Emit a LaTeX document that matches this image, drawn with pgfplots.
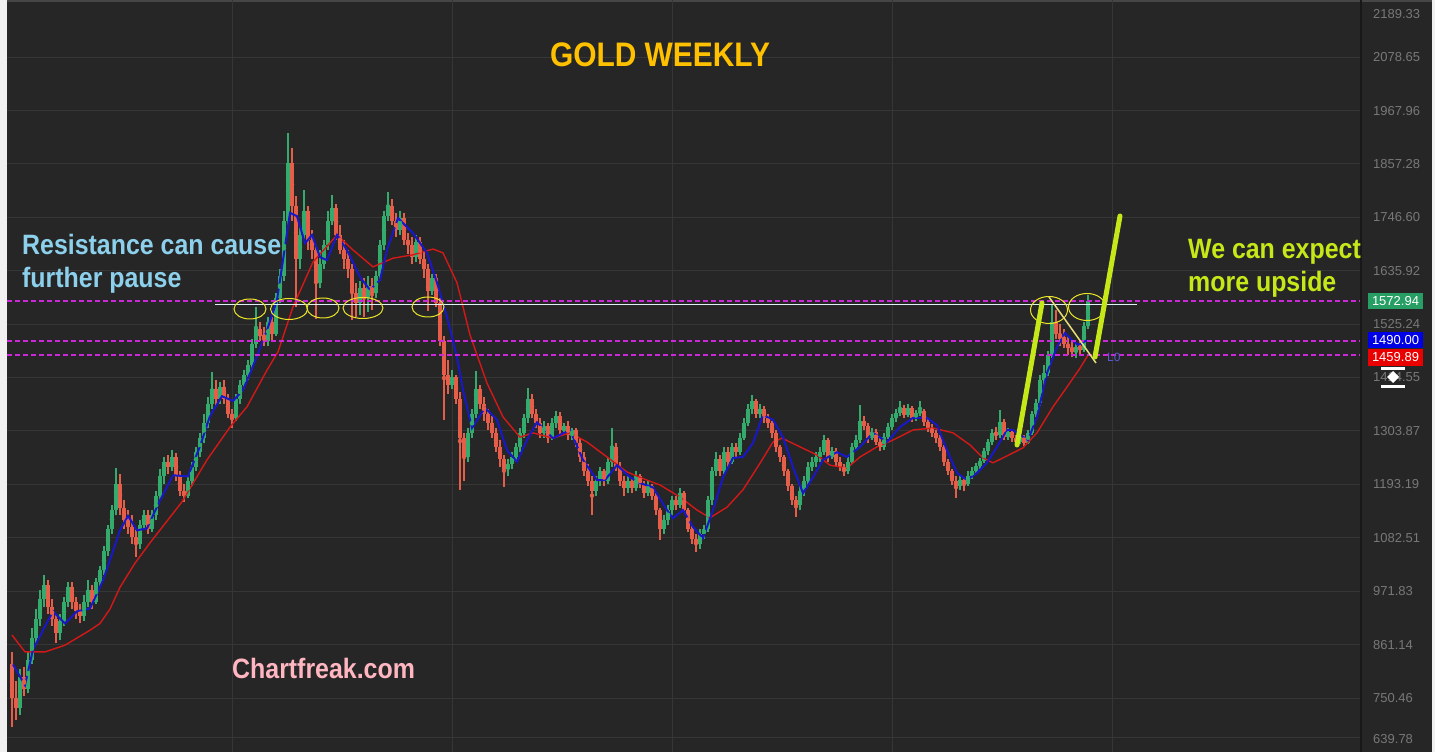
\documentclass[border=0pt]{standalone}
\usepackage{pgfplots}
\pgfplotsset{compat=1.18}
\usepackage{pgfplotstable}
\usepackage{fontspec}
\setmainfont{Liberation Sans}
\definecolor{bgc}{RGB}{38,38,38}
\definecolor{gridc}{RGB}{54,54,54}
\definecolor{cgreen}{RGB}{52,170,108}
\definecolor{cred}{RGB}{228,94,74}
\definecolor{mablue}{RGB}{24,24,200}
\definecolor{mared}{RGB}{212,24,24}
\definecolor{cmag}{RGB}{205,40,215}
\definecolor{tickc}{RGB}{120,120,120}
\definecolor{ttl}{RGB}{255,192,0}
\definecolor{resc}{RGB}{140,208,235}
\definecolor{limec}{RGB}{198,232,24}
\definecolor{pinkc}{RGB}{255,182,193}
\definecolor{ellc}{RGB}{236,230,40}
\definecolor{resl}{RGB}{222,240,245}
\definecolor{thinyl}{RGB}{232,222,120}
\definecolor{lzero}{RGB}{90,90,210}
\definecolor{boxg}{RGB}{38,158,100}
\definecolor{boxb}{RGB}{0,0,230}
\definecolor{boxr}{RGB}{235,0,0}
\definecolor{sepc}{RGB}{24,24,24}
\definecolor{topc}{RGB}{70,70,70}
\definecolor{sidec}{RGB}{240,240,240}

\pgfplotstableread{
o h l c
820 845 690 750
750 785 705 730
730 810 715 795
795 815 755 770
770 845 760 830
830 895 820 875
875 935 860 915
915 975 900 955
955 1005 940 985
985 995 925 940
940 955 900 915
915 925 865 885
885 925 870 910
910 960 900 950
950 990 940 980
980 990 935 950
950 960 915 930
930 945 905 920
920 965 910 950
950 995 940 975
975 985 935 950
950 1000 945 990
990 1025 980 1015
1015 1065 1005 1055
1055 1110 1045 1100
1100 1150 1090 1140
1140 1227 1130 1195
1195 1215 1130 1145
1145 1160 1100 1120
1120 1140 1090 1105
1105 1130 1070 1085
1085 1100 1043 1070
1070 1120 1060 1110
1110 1140 1100 1130
1130 1140 1090 1100
1100 1140 1095 1130
1130 1180 1120 1170
1170 1225 1160 1210
1210 1250 1195 1240
1240 1255 1215 1230
1230 1264 1220 1250
1250 1258 1200 1210
1210 1220 1170 1180
1180 1195 1157 1170
1170 1210 1165 1200
1200 1240 1190 1230
1230 1270 1220 1260
1260 1300 1250 1290
1290 1340 1280 1320
1320 1375 1310 1360
1360 1426 1350 1390
1390 1410 1355 1370
1370 1405 1360 1395
1395 1410 1360 1370
1370 1380 1330 1340
1340 1350 1310 1330
1330 1380 1325 1370
1370 1410 1360 1400
1400 1430 1390 1420
1420 1450 1410 1440
1440 1495 1430 1485
1485 1560 1475 1515
1515 1530 1490 1500
1500 1520 1480 1490
1490 1540 1480 1530
1530 1540 1490 1505
1505 1590 1500 1580
1580 1640 1570 1625
1625 1760 1615 1740
1740 1921 1730 1860
1860 1890 1740 1770
1770 1790 1560 1660
1660 1730 1640 1710
1710 1803 1700 1760
1760 1770 1680 1700
1700 1720 1660 1680
1680 1690 1535 1610
1610 1680 1600 1650
1650 1700 1640 1690
1690 1760 1680 1740
1740 1793 1730 1765
1765 1775 1700 1710
1710 1730 1670 1680
1680 1700 1640 1660
1660 1680 1620 1640
1640 1650 1534 1590
1590 1610 1540 1570
1570 1615 1545 1600
1600 1620 1540 1580
1580 1625 1550 1605
1605 1620 1555 1590
1590 1635 1580 1625
1625 1700 1615 1690
1690 1760 1680 1750
1750 1799 1740 1770
1770 1785 1730 1740
1740 1755 1705 1720
1720 1760 1710 1745
1745 1755 1690 1700
1700 1715 1670 1690
1690 1705 1650 1665
1665 1710 1655 1695
1695 1705 1650 1660
1660 1675 1620 1640
1640 1650 1553 1595
1595 1630 1585 1620
1620 1630 1560 1570
1570 1580 1480 1490
1490 1500 1327 1420
1420 1450 1380 1400
1400 1430 1390 1415
1415 1420 1360 1370
1370 1385 1181 1290
1290 1300 1200 1250
1250 1310 1240 1300
1300 1350 1290 1340
1340 1428 1330 1390
1390 1400 1350 1360
1360 1375 1325 1340
1340 1350 1305 1320
1320 1335 1290 1300
1300 1310 1260 1270
1270 1285 1230 1245
1245 1255 1188 1225
1225 1245 1210 1235
1235 1260 1225 1250
1250 1280 1240 1270
1270 1310 1260 1300
1300 1340 1290 1330
1330 1393 1320 1370
1370 1380 1330 1340
1340 1350 1310 1320
1320 1330 1290 1300
1300 1325 1290 1315
1315 1320 1280 1290
1290 1330 1285 1320
1320 1345 1310 1335
1335 1343 1295 1305
1305 1320 1295 1315
1315 1325 1285 1295
1295 1310 1285 1305
1305 1310 1270 1280
1280 1290 1240 1250
1250 1260 1210 1220
1220 1235 1190 1200
1200 1210 1130 1180
1180 1210 1170 1200
1200 1230 1190 1220
1220 1225 1190 1200
1200 1250 1195 1240
1240 1310 1230 1270
1270 1280 1220 1230
1230 1240 1190 1200
1200 1210 1170 1185
1185 1210 1175 1200
1200 1205 1175 1185
1185 1220 1180 1210
1210 1215 1185 1195
1195 1200 1165 1175
1175 1200 1170 1190
1190 1195 1160 1170
1170 1175 1130 1140
1140 1145 1078 1100
1100 1130 1090 1120
1120 1150 1110 1140
1140 1170 1130 1160
1160 1170 1140 1150
1150 1185 1145 1175
1175 1180 1135 1140
1140 1145 1095 1100
1100 1110 1070 1080
1080 1090 1053 1070
1070 1100 1060 1090
1090 1110 1080 1100
1100 1170 1095 1160
1160 1230 1150 1220
1220 1260 1210 1245
1245 1255 1210 1220
1220 1270 1215 1260
1260 1270 1230 1240
1240 1280 1235 1270
1270 1280 1250 1260
1260 1300 1255 1290
1290 1330 1285 1320
1320 1360 1315 1350
1350 1378 1340 1365
1365 1370 1330 1340
1340 1360 1330 1350
1350 1355 1320 1330
1330 1340 1310 1320
1320 1325 1290 1300
1300 1305 1260 1270
1270 1275 1240 1250
1250 1255 1210 1220
1220 1225 1180 1190
1190 1195 1150 1160
1160 1170 1126 1150
1150 1190 1140 1180
1180 1210 1170 1200
1200 1240 1190 1230
1230 1250 1220 1240
1240 1260 1230 1250
1250 1270 1240 1260
1260 1295 1255 1285
1285 1290 1240 1250
1250 1270 1245 1262
1262 1268 1230 1240
1240 1250 1220 1230
1230 1235 1210 1220
1220 1250 1215 1240
1240 1280 1235 1270
1270 1295 1262 1285
1285 1358 1280 1325
1325 1335 1305 1315
1315 1320 1280 1290
1290 1310 1285 1302
1302 1308 1275 1282
1282 1290 1262 1270
1270 1300 1265 1292
1292 1320 1288 1312
1312 1340 1305 1330
1330 1350 1322 1342
1342 1365 1335 1352
1352 1358 1330 1338
1338 1360 1332 1352
1352 1356 1322 1330
1330 1348 1325 1342
1342 1365 1335 1345
1345 1350 1315 1322
1322 1330 1302 1310
1310 1318 1292 1300
1300 1305 1280 1290
1290 1295 1262 1270
1270 1275 1232 1240
1240 1245 1212 1220
1220 1225 1192 1200
1200 1210 1165 1190
1190 1210 1182 1202
1202 1208 1180 1195
1195 1220 1190 1210
1210 1230 1205 1222
1222 1238 1215 1232
1232 1248 1225 1242
1242 1268 1238 1262
1262 1288 1255 1282
1282 1308 1275 1300
1300 1312 1285 1295
1295 1347 1290 1322
1322 1328 1285 1292
1292 1310 1285 1302
1302 1308 1282 1290
1290 1296 1275 1282
1282 1298 1276 1292
1292 1296 1272 1280
1280 1305 1276 1300
1300 1345 1295 1340
1340 1370 1332 1362
1362 1420 1355 1410
1410 1440 1400 1425
1425 1470 1418 1462
1462 1565 1455 1530
1530 1555 1495 1505
1505 1525 1480 1495
1495 1515 1475 1485
1485 1500 1462 1475
1475 1490 1458 1468
1468 1485 1455 1478
1478 1492 1462 1472
1472 1530 1468 1522
1522 1586 1515 1573
}\candles

\begin{document}
\begin{tikzpicture}[x=1pt,y=1pt]
\path[use as bounding box] (0,0) rectangle (1435,752);
\fill[bgc] (0,0) rectangle (1435,752);
\fill[sidec] (0,0) rectangle (7,752);
\fill[sidec] (1432,0) rectangle (1435,752);
\fill[topc] (7,749.5) rectangle (1432,752);

\begin{axis}[
  at={(7pt,0pt)}, anchor=south west,
  scale only axis, width=1353pt, height=752pt,
  xmin=-1.25, xmax=337, ymin=638.6, ymax=2197.1,
  axis line style={draw=none},
  major tick length=0pt,
  xtick={55.25,110.25,165.25,220.25,275.25},
  xticklabels={},
  ytick={750.46,861.14,971.83,1082.51,1193.19,1303.87,1414.55,1525.24,1635.92,1746.60,1857.28,1967.96,2078.65},
  yticklabels={750.46,861.14,971.83,1082.51,1193.19,1303.87,1414.55,1525.24,1635.92,1746.60,1857.28,1967.96,2078.65},
  yticklabel pos=right,
  yticklabel style={font=\fontsize{13}{13}\selectfont, text=tickc, anchor=west, inner sep=0pt, xshift=13pt},
  xmajorgrids, ymajorgrids,
  grid style={gridc, line width=1pt},
]
% wicks
\addplot[color=cgreen, only marks, mark=none, forget plot,
  restrict expr to domain={\thisrow{c}-\thisrow{o}}{0:100000},
  error bars/.cd, y dir=both, y explicit, error mark=none,
  error bar style={color=cgreen, line width=1.2pt}]
  table[x expr=\coordindex, y expr={(\thisrow{h}+\thisrow{l})/2}, y error expr={(\thisrow{h}-\thisrow{l})/2}] {\candles};
\addplot[color=cred, only marks, mark=none, forget plot,
  restrict expr to domain={\thisrow{c}-\thisrow{o}}{-100000:-0.001},
  error bars/.cd, y dir=both, y explicit, error mark=none,
  error bar style={color=cred, line width=1.2pt}]
  table[x expr=\coordindex, y expr={(\thisrow{h}+\thisrow{l})/2}, y error expr={(\thisrow{h}-\thisrow{l})/2}] {\candles};
% bodies
\addplot[color=cgreen, only marks, mark=none, forget plot,
  restrict expr to domain={\thisrow{c}-\thisrow{o}}{0:100000},
  error bars/.cd, y dir=both, y explicit, error mark=none,
  error bar style={color=cgreen, line width=3.6pt}]
  table[x expr=\coordindex, y expr={(\thisrow{o}+\thisrow{c})/2}, y error expr={max(abs(\thisrow{c}-\thisrow{o})/2,2.5)}] {\candles};
\addplot[color=cred, only marks, mark=none, forget plot,
  restrict expr to domain={\thisrow{c}-\thisrow{o}}{-100000:-0.001},
  error bars/.cd, y dir=both, y explicit, error mark=none,
  error bar style={color=cred, line width=3.6pt}]
  table[x expr=\coordindex, y expr={(\thisrow{o}+\thisrow{c})/2}, y error expr={max(abs(\thisrow{c}-\thisrow{o})/2,2.5)}] {\candles};
% red moving average
\addplot[mared, line width=1.4pt, mark=none] coordinates {
(0,881) (3.25,846) (8.25,846) (13.25,860) (19.5,891) (22,905) (24.5,935) (27,980) (30.75,1030) (34.5,1072)
(42.5,1157) (48.75,1244) (54.5,1312) (58.75,1354) (63.75,1430) (66.5,1468) (70.25,1561)
(75.25,1654) (81.25,1710) (85.25,1679) (90.25,1644) (95.25,1662) (100.25,1669) (105.25,1681)
(107.75,1673) (111.25,1611) (114.5,1503) (118.75,1403) (122.75,1333) (127,1291) (130.25,1300)
(135.25,1289) (139.5,1300) (143.75,1281) (148.75,1250) (153.75,1219) (158.75,1202) (162,1192)
(167,1167) (171.25,1140) (174.5,1124) (178.75,1146) (182.75,1182) (187,1237) (190.25,1281)
(192.5,1289) (197,1271) (201.25,1254) (204.5,1233) (208.75,1227) (212,1250) (216.25,1271)
(220.25,1285) (225.25,1306) (230.25,1310) (235.25,1300) (239.5,1275) (242.75,1248) (245.25,1238)
(247.75,1248) (252.75,1269) (256.25,1300) (260.25,1354) (263.75,1395) (267,1434) (269,1461)
};
% blue moving average
\addplot[mablue, line width=2pt, mark=none] coordinates {
(0.25,820) (3.25,777) (5.25,851) (7.75,891) (10.25,930) (13.25,905) (16.25,930) (19.5,936)
(22.75,994) (27,1098) (29,1128) (31.25,1098) (33.75,1102) (37,1160) (40.25,1212) (44,1210)
(47,1272) (49.5,1335) (52.5,1376) (55.25,1366) (57.75,1389) (60.25,1438) (63.75,1513)
(66.25,1575) (67.75,1658) (69.5,1756) (71.25,1749) (73.25,1693) (75,1710) (77,1664)
(78.75,1658) (81.25,1710) (83.75,1679) (87,1623) (89.5,1596) (92,1617) (93.75,1679)
(96.5,1745) (100.25,1714) (103.75,1673) (106.25,1611) (108.75,1540) (111.25,1457) (112.75,1389)
(115,1310) (118.25,1352) (121.25,1327) (123.75,1264) (126.25,1240) (128.75,1285) (131.25,1322)
(135.25,1289) (139.5,1306) (142.75,1244) (146.25,1202) (148.25,1202) (151.25,1233) (154.5,1208)
(157,1196) (160.25,1187) (163.75,1140) (165.25,1123) (167.75,1140) (170.25,1105) (172.75,1082)
(175.25,1140) (177.75,1208) (180.25,1248) (182.75,1250) (185.25,1279) (187.75,1337) (190.25,1327)
(192.75,1291) (195.25,1229) (197.75,1175) (200.25,1208) (202.75,1244) (206.25,1260) (208.75,1250)
(212,1271) (215.25,1300) (218.75,1281) (222,1312) (225.25,1331) (228.75,1331) (231.25,1316)
(233.75,1264) (236.25,1217) (238.75,1202) (241.25,1217) (243.75,1238) (246.25,1271) (248.75,1306)
(250.25,1306) (254,1285) (256.25,1333) (258.75,1424) (261.25,1478) (263.25,1507) (265,1492)
(266.5,1482) (268.75,1492)
};
% dashed price levels
\draw[cmag, line width=1.6pt, dash pattern=on 5pt off 3pt] (axis cs:-1.25,1572.94) -- (axis cs:337,1572.94);
\draw[cmag, line width=1.6pt, dash pattern=on 5pt off 3pt] (axis cs:-1.25,1490.00) -- (axis cs:337,1490.00);
\draw[cmag, line width=1.6pt, dash pattern=on 5pt off 3pt] (axis cs:-1.25,1461.00) -- (axis cs:337,1461.00);
\end{axis}

% clamped bottom grid line and separator
\draw[gridc, line width=1pt] (7,14) -- (1360,14);
\draw[sepc, line width=2pt] (1360.5,0) -- (1360.5,752);

% resistance line and ellipses
\draw[resl, line width=1pt] (215,447) -- (1137,447);
\draw[ellc, line width=1pt] (250,443) ellipse [x radius=16, y radius=10];
\draw[ellc, line width=1pt] (289,443) ellipse [x radius=18.5, y radius=10.5];
\draw[ellc, line width=1pt] (323,444) ellipse [x radius=16, y radius=10];
\draw[ellc, line width=1pt] (363,444) ellipse [x radius=20, y radius=10.5];
\draw[ellc, line width=1pt] (428,445) ellipse [x radius=16, y radius=10];
\draw[ellc, line width=1pt] (1049,442) ellipse [x radius=18.5, y radius=13.5];
\draw[ellc, line width=1pt] (1087,445) ellipse [x radius=18.5, y radius=13.5];

% channel lines
\draw[thinyl, line width=1.5pt] (1049,455) -- (1096,389);
\draw[limec, line width=5pt, line cap=round] (1017,307) -- (1042,449);
\draw[limec, line width=5pt, line cap=round] (1095,395) -- (1120,536);
\node[anchor=west, inner sep=0pt, text=lzero, font=\fontsize{12}{12}\selectfont] at (1107,395) {L0};

% texts
\node[anchor=base, inner sep=0pt, text=ttl, xscale=0.88, font=\fontsize{34}{34}\selectfont\bfseries] at (660,685) {GOLD WEEKLY};
\node[anchor=base west, inner sep=0pt, text=resc, xscale=0.89, font=\fontsize{28}{28}\selectfont\bfseries] at (22,497) {Resistance can cause};
\node[anchor=base west, inner sep=0pt, text=resc, xscale=0.89, font=\fontsize{28}{28}\selectfont\bfseries] at (22,464) {further pause};
\node[anchor=base west, inner sep=0pt, text=limec, xscale=0.89, font=\fontsize{28}{28}\selectfont\bfseries] at (1188,493) {We can expect};
\node[anchor=base west, inner sep=0pt, text=limec, xscale=0.89, font=\fontsize{28}{28}\selectfont\bfseries] at (1188,460) {more upside};
\node[anchor=base west, inner sep=0pt, text=pinkc, xscale=0.89, font=\fontsize{28}{28}\selectfont\bfseries] at (232,73) {Chartfreak.com};

% right scale extras
\node[anchor=west, inner sep=0pt, text=tickc, font=\fontsize{13}{13}\selectfont] at (1373,738) {2189.33};
\node[anchor=west, inner sep=0pt, text=tickc, font=\fontsize{13}{13}\selectfont] at (1373,13) {639.78};
\fill[boxg] (1368,443) rectangle (1423,459);
\node[inner sep=0pt, text=white, font=\fontsize{13}{13}\selectfont] at (1395.5,451) {1572.94};
\fill[boxb] (1368,404) rectangle (1423,420);
\node[inner sep=0pt, text=white, font=\fontsize{13}{13}\selectfont] at (1395.5,412) {1490.00};
\fill[boxr] (1368,386) rectangle (1423,403);
\node[inner sep=0pt, text=white, font=\fontsize{13}{13}\selectfont] at (1395.5,394.5) {1459.89};
\fill[white] (1381,382) rectangle (1405,385);
\fill[white] (1381,364) rectangle (1405,367);
\fill[white] (1393,381) -- (1399,375) -- (1393,369) -- (1387,375) -- cycle;
\end{tikzpicture}
\end{document}
